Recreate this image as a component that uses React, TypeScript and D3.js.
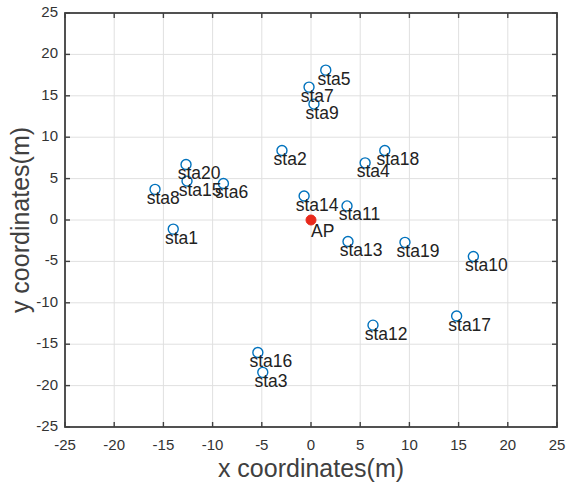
import React from 'react';
import * as d3 from 'd3';

const staNames = ['sta1','sta2','sta3','sta4','sta5','sta6','sta7','sta8','sta9','sta10','sta11','sta12','sta13','sta14','sta15','sta16','sta17','sta18','sta19','sta20'];
const staX = [-14.0,-2.95,-4.9,5.5,1.5,-8.9,-0.2,-15.85,0.3,16.5,3.66,6.3,3.76,-0.7,-12.6,-5.4,14.8,7.5,9.55,-12.7];
const staY = [-1.1,8.4,-18.4,6.9,18.1,4.4,16.05,3.7,14.0,-4.4,1.7,-12.7,-2.6,2.9,4.7,-16.0,-11.6,8.4,-2.7,6.7];
const apPos = [0, 0];
const ticks = [-25,-20,-15,-10,-5,0,5,10,15,20,25];

const W = 566, H = 485;
const margin = {top: 13, right: 9, bottom: 58, left: 65};

const App = () => {
    const x = d3.scaleLinear().domain([-25, 25]).range([margin.left, W - margin.right]);
    const y = d3.scaleLinear().domain([-25, 25]).range([H - margin.bottom, margin.top]);
    const x0 = x(-25), x1 = x(25), y0 = y(-25), y1 = y(25);
    const axisColor = '#404040';
    const font = 'Arial, "Liberation Sans", sans-serif';

    return (
        <svg width={W} height={H} style={{position: 'absolute', left: 0, top: 0}}>
            <rect x={0} y={0} width={W} height={H} fill="#fff"/>
            {/* grid */}
            {ticks.map(t => (
                <g key={'g' + t}>
                    <line x1={x(t)} x2={x(t)} y1={y0} y2={y1} stroke="#e0e0e0" strokeWidth={1}/>
                    <line x1={x0} x2={x1} y1={y(t)} y2={y(t)} stroke="#e0e0e0" strokeWidth={1}/>
                </g>
            ))}
            {/* ticks */}
            {ticks.map(t => (
                <g key={'t' + t} stroke={axisColor} strokeWidth={1.4}>
                    <line x1={x(t)} x2={x(t)} y1={y0} y2={y0 - 5}/>
                    <line x1={x(t)} x2={x(t)} y1={y1} y2={y1 + 5}/>
                    <line x1={x0} x2={x0 + 5} y1={y(t)} y2={y(t)}/>
                    <line x1={x1} x2={x1 - 5} y1={y(t)} y2={y(t)}/>
                </g>
            ))}
            <rect x={x0} y={y1} width={x1 - x0} height={y0 - y1} fill="none" stroke={axisColor} strokeWidth={1.8}/>
            {/* tick labels */}
            {ticks.map(t => (
                <text key={'xl' + t} x={x(t)} y={y0 + 19} textAnchor="middle" dominantBaseline="middle"
                      fontFamily={font} fontSize={15} fill="#333">{t}</text>
            ))}
            {ticks.map(t => (
                <text key={'yl' + t} x={x0 - 7} y={y(t)} textAnchor="end" dominantBaseline="middle"
                      fontFamily={font} fontSize={15} fill="#333">{t}</text>
            ))}
            {/* axis labels */}
            <text x={(x0 + x1) / 2} y={H - 8} textAnchor="middle" fontFamily={font} fontSize={25} fill="#404040">x coordinates(m)</text>
            <text transform={`translate(${29},${(y0 + y1) / 2}) rotate(-90)`} textAnchor="middle" fontFamily={font} fontSize={25} fill="#404040">y coordinates(m)</text>
            {/* stations */}
            {staNames.map((n, i) => (
                <circle key={'c' + n} cx={x(staX[i])} cy={y(staY[i])} r={5} fill="#fff" stroke="#0072BD" strokeWidth={1.4}/>
            ))}
            {staNames.map((n, i) => (
                <text key={'n' + n} x={x(staX[i] - 0.85)} y={y(staY[i] - 1.2)} dominantBaseline="middle"
                      fontFamily={font} fontSize={17.5} fill="#222">{n}</text>
            ))}
            <circle cx={x(apPos[0])} cy={y(apPos[1])} r={5} fill="#e8291c" stroke="#e8291c" strokeWidth={1}/>
            <text x={x(apPos[0])} y={y(apPos[1] - 1.5)} dominantBaseline="middle" fontFamily={font} fontSize={17.5} fill="#222">AP</text>
        </svg>
    );
};

export default App;
